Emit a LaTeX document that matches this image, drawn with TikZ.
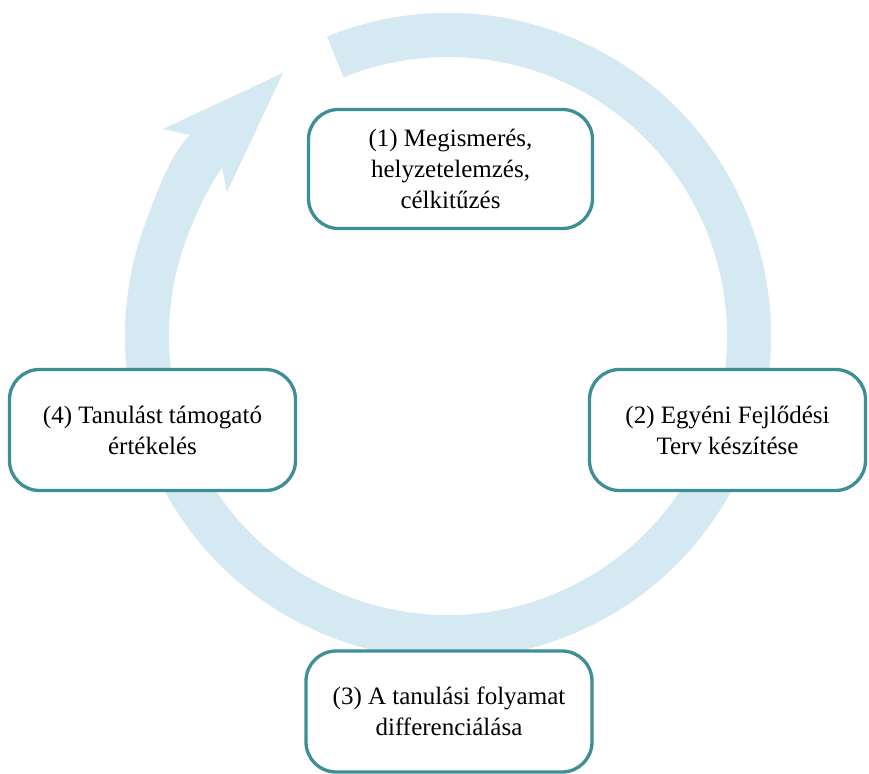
\documentclass[tikz,border=0pt]{standalone}
\usepackage{fontspec}
\setmainfont{Liberation Serif}
\usetikzlibrary{calc}
\definecolor{ringblue}{RGB}{212,233,242}
\definecolor{boxteal}{RGB}{62,142,150}
\begin{document}
\begin{tikzpicture}[x=1pt,y=1pt,
  stagebox/.style={draw=boxteal, line width=3.3pt, rounded corners=30pt, fill=white,
    align=center, font=\fontsize{25}{31}\selectfont, inner sep=0pt}]
\useasboundingbox (0,0) rectangle (869,773);
\coordinate (C) at (448,437);
% circular arrow
\fill[ringblue] ($(C)+(112:323)$) arc[start angle=112, end angle=-200, radius=323]
  .. controls (160,590) and (172,620) .. (190,638)
  -- (163,644) -- (283,700) -- (227,581) -- (222,605)
  .. controls (214,595) and (197.8,565.3) .. ($(C)+(160:279)$)
  arc[start angle=-200, end angle=112, radius=279] -- cycle;
% stages
\node[stagebox, minimum width=284pt, minimum height=119pt] (b1) at (450.5,604)
  {(1) Megismerés,\\helyzetelemzés,\\célkitűzés};
\node[stagebox, minimum width=276pt, minimum height=121pt] (b2) at (727.5,343)
  {(2) Egyéni Fejlődési\\Terv készítése};
\node[stagebox, minimum width=286pt, minimum height=121pt] (b3) at (449,61.5)
  {(3) A tanulási folyamat\\differenciálása};
\node[stagebox, minimum width=286pt, minimum height=121pt] (b4) at (152.5,343)
  {(4) Tanulást támogató\\értékelés};
\end{tikzpicture}
\end{document}
